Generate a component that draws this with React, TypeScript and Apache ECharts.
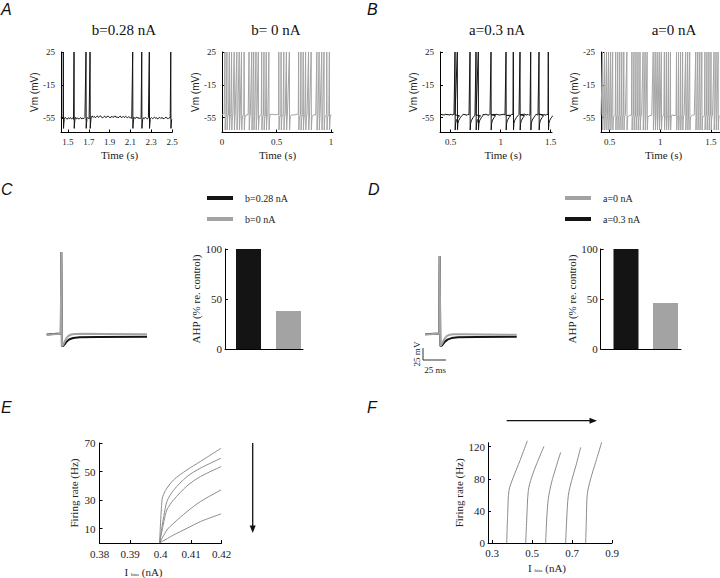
import React, { useEffect, useRef } from 'react';
import * as echarts from 'echarts';

const SERIF = 'Liberation Serif, "Times New Roman", serif';
const SANS = 'Liberation Sans, Arial, sans-serif';

type Pt = [number, number];

// ---------- Panel A / B: voltage traces ----------
const vmTicks = [-55, -15, 25];
const vmTickLabelsA = ['-55', '-15', '25'];
const vmTickLabelsB2 = ['-55', '-15', '-25'];

const a1XTicks = [1.5, 1.7, 1.9, 2.1, 2.3, 2.5];
const a2XTicks = [0, 0.5, 1];
const b1XTicks = [0.5, 1, 1.5];
const b2XTicks = [0.5, 1, 1.5];

const panelTitles = ['b=0.28 nA', 'b= 0 nA', 'a=0.3 nA', 'a=0 nA'];

const a1Spikes = [1.455, 1.558, 1.673, 1.712, 2.122, 2.209, 2.282, 2.488];
const a1Start = 1.433;
const a1Step = 0.01;
const a1Base = [
  -55.0, -56.6, -55.2, -56.3, -54.5, -56.0, -56.8, -55.1, -56.2, -54.8, -56.5, -55.3, -57.0, -55.6, -54.6, -56.4, -55.2, -56.7, -55.8, -54.9,
  -56.5, -55.3, -56.1, -54.7, -56.8, -55.5, -55.0, -56.4, -55.7,
  -54.0, -52.9, -54.6, -53.3, -55.1, -53.8, -52.8, -54.7, -53.6, -52.7, -54.5, -55.2, -53.9, -53.1, -54.9, -54.2, -52.9, -53.8, -55.0, -54.4,
  -53.2, -54.8, -53.6, -52.9, -54.6, -53.9, -55.3, -53.7, -53.0, -54.8, -54.1, -53.5, -54.9, -53.2, -54.3, -55.1, -53.7, -54.6, -55.2, -55.6,
  -55.4, -54.4, -56.1, -55.0, -54.2, -55.9, -54.9, -56.4, -54.5, -55.7, -55.2, -56.2, -54.4, -55.5, -56.6, -55.0, -54.1, -55.8, -54.8, -56.1,
  -55.3, -54.3, -55.9, -55.0, -56.5, -55.4, -54.6, -56.0, -54.8, -55.6, -56.3, -55.0, -54.4, -55.6, -56.2, -54.9, -55.7, -55.2,
];

const a2Spikes = [
  0.027, 0.045, 0.067, 0.088, 0.112, 0.136, 0.158, 0.179, 0.203, 0.248, 0.273, 0.291, 0.312, 0.333, 0.364, 0.385, 0.406, 0.43,
  0.521, 0.542, 0.567, 0.591, 0.618, 0.703, 0.724, 0.745, 0.767, 0.794, 0.818, 0.87, 0.891, 0.915, 0.936, 0.961, 0.985,
];
const a2Start = 0;
const a2Step = 0.02;
const a2Base = [
  -51.0, -50.4, -51.6, -50.8, -51.3, -50.6, -51.8, -51.1, -50.5, -51.4, -50.9, -51.7, -51.2, -50.6, -51.5, -50.8, -51.3, -51.9, -50.7, -51.2,
  -50.5, -51.6, -51.0, -50.8, -51.4, -51.1, -50.6, -51.7, -51.2, -50.9, -51.5, -50.7, -51.3, -51.8, -51.0, -50.6, -51.4, -51.1, -50.8, -51.6,
  -51.2, -50.5, -51.3, -51.7, -50.9, -51.1, -50.6, -51.5, -51.0, -50.8, -51.2,
];

const b1Spikes = [0.543, 0.566, 0.693, 0.753, 0.776, 0.903, 1.053, 1.126, 1.193, 1.3, 1.383, 1.476];
const b1Start = 0.393;
const b1Step = 0.01;
const b1Base = [
  -51.2, -50.4, -51.8, -50.9, -52.1, -51.0, -50.5, -51.7, -50.8, -51.9, -51.3, -50.6, -52.0, -51.1, -50.7, -51.6, -52.2, -51.0, -50.5, -51.8,
  -51.4, -50.9, -52.0, -51.2, -50.6, -51.7, -51.1, -52.3, -50.8, -51.5, -51.9, -50.7, -51.3, -52.0, -51.0, -50.6, -51.8, -51.2, -52.1, -50.9,
  -51.5, -51.0, -52.2, -50.8, -51.6, -51.1, -50.5, -51.9, -51.3, -52.0, -50.8, -51.4, -51.9, -50.7, -51.2, -52.1, -51.0, -50.6, -51.7, -51.3,
  -52.0, -50.9, -51.5, -51.1, -50.7, -51.8, -52.2, -51.0, -50.8, -51.6, -51.2, -52.0, -50.6, -51.4, -51.9, -51.1, -50.7, -51.7, -52.1, -51.0,
  -51.5, -50.8, -51.3, -52.0, -51.2, -50.6, -51.8, -51.4, -50.9, -52.2, -51.1, -50.7, -51.6, -51.9, -51.0, -52.1, -50.8, -51.3, -51.7, -50.6,
  -51.4, -52.0, -51.1, -50.9, -51.6, -51.2, -52.2, -50.7, -51.5, -51.8, -51.0, -51.4, -50.9,
];

const b2Spikes = [
  0.43, 0.45, 0.47, 0.49, 0.51, 0.53, 0.56, 0.58, 0.6, 0.62, 0.64, 0.67, 0.72, 0.74, 0.76, 0.78, 0.8, 0.83, 0.85, 0.87,
  0.93, 0.95, 0.97, 0.99, 1.01, 1.04, 1.06, 1.08, 1.1, 1.16, 1.18, 1.2, 1.22, 1.25, 1.27, 1.29, 1.35, 1.37, 1.39, 1.41,
  1.44, 1.46, 1.48, 1.5, 1.53, 1.55, 1.57, 1.6,
];
const b2Start = 0.415;
const b2Step = 0.02;
const b2Base = [
  -52.1, -51.4, -52.6, -51.8, -52.3, -51.6, -52.8, -52.0, -51.5, -52.4, -51.9, -52.7, -52.2, -51.6, -52.5, -51.8, -52.3, -52.9, -51.7, -52.2,
  -51.5, -52.6, -52.0, -51.8, -52.4, -52.1, -51.6, -52.7, -52.2, -51.9, -52.5, -51.7, -52.3, -52.8, -52.0, -51.6, -52.4, -52.1, -51.8, -52.6,
  -52.2, -51.5, -52.3, -52.7, -51.9, -52.1, -51.6, -52.5, -52.0, -51.8, -52.2, -52.6, -51.7, -52.3, -51.9, -52.4, -52.0, -51.7, -52.3, -51.8,
  -52.2, -52.5, -51.9,
];

// spike waveform templates (time offset in s, mV)
const spikeShapeA1: Pt[] = [[0, 25], [0.002, -68], [0.005, -62], [0.009, -57]];
const spikeShapeGray: Pt[] = [[0, 25], [0.002, -70], [0.005, -60], [0.008, -54]];
const spikeShapeB1: Pt[] = [[0, 25], [0.002, -70], [0.006, -62], [0.015, -58], [0.03, -55], [0.045, -52.5]];

// ---------- Panel C / D ----------
const cLegend = ['b=0.28 nA', 'b=0 nA'];
const dLegend = ['a=0 nA', 'a=0.3 nA'];
// single spike (ms, mV)
const cGray: Pt[] = [[-16, -60], [-10, -59.8], [-4, -59.3], [-0.5, -58.8], [0, 40], [0.7, -74], [2, -72.5], [4, -68], [6, -64], [8, -61.5], [11, -60], [15, -59.4], [25, -59.2], [50, -59.3], [94, -59.6]];
const cBlack: Pt[] = [[-16, -60], [-0.5, -58.8], [0, 40], [0.7, -74], [2, -73.8], [4, -71.5], [6, -68.5], [9, -65.8], [13, -64.2], [20, -63.4], [40, -63], [94, -62.8]];
const dGray: Pt[] = [[-16, -60], [-10, -59.8], [-4, -59.3], [-0.5, -58.8], [0, 40], [0.7, -75], [2, -73], [4, -68.5], [6, -64.5], [8, -62], [11, -60.5], [15, -60], [25, -60], [50, -60.2], [84, -60.5]];
const dBlack: Pt[] = [[-16, -60], [-0.5, -58.8], [0, 40], [0.7, -75], [2, -74.5], [4, -72], [6, -69], [9, -66.5], [13, -64.8], [20, -63.8], [40, -63.3], [84, -63.1]];

const ahpCats = ['control', 'no adaptation'];
const ahpC = [100, 38];
const ahpD = [100, 46];
const ahpTicks = [0, 50, 100];

// ---------- Panel E / F ----------
const eXTicks = [0.38, 0.39, 0.4, 0.41, 0.42];
const eYTicks = [10, 30, 50, 70];
const eCurves: Pt[][] = [
  [[0.3997, 0], [0.4005, 30.2], [0.4012, 35], [0.4021, 38.4], [0.4043, 44.2], [0.4087, 51.2], [0.4131, 57.1], [0.4199, 66.4]],
  [[0.3997, 0], [0.4005, 11.7], [0.4011, 18.7], [0.4021, 29], [0.4043, 37], [0.4087, 46.5], [0.4131, 52.4], [0.4199, 59.4]],
  [[0.3997, 0], [0.4011, 15], [0.4021, 23.2], [0.4043, 30.2], [0.4087, 40], [0.4131, 46.5], [0.4199, 53.5]],
  [[0.3997, 0], [0.4021, 9.1], [0.4043, 13.8], [0.4087, 22], [0.4131, 29], [0.4199, 37.2]],
  [[0.3997, 0], [0.4043, 5.6], [0.4087, 10.3], [0.4131, 15], [0.4199, 20.4]],
];
const fXTicks = [0.3, 0.5, 0.7, 0.9];
const fYTicks = [0, 40, 80, 120];
const fCurves: Pt[][] = [
  [[0.3735, 0], [0.3785, 36.8], [0.385, 65.6], [0.4067, 82], [0.44, 102.8], [0.4767, 127.5]],
  [[0.4685, 0], [0.4735, 28.5], [0.4817, 65.6], [0.4983, 82], [0.5233, 98.7], [0.56, 120.5]],
  [[0.5683, 0], [0.5733, 28.5], [0.5817, 55.3], [0.5983, 75.9], [0.62, 94.5], [0.6433, 113]],
  [[0.6683, 0], [0.6733, 28.5], [0.6817, 59.4], [0.6983, 78], [0.72, 96.6], [0.7433, 119.2]],
  [[0.7683, 0], [0.7717, 28.5], [0.7767, 61.5], [0.7933, 80], [0.8183, 100.7], [0.8483, 125.4]],
];

function buildTrace(t0: number, dt: number, base: number[], spikes: number[], shape: Pt[]): Pt[] {
  const win = shape[shape.length - 1][0];
  const out: Pt[] = [];
  let si = 0;
  for (let i = 0; i < base.length; i++) {
    const t = t0 + i * dt;
    while (si < spikes.length && spikes[si] <= t) {
      const s = spikes[si];
      for (const [dx, v] of shape) out.push([s + dx, v]);
      si++;
    }
    if (!spikes.some((s) => t > s && t <= s + win)) out.push([t, base[i]]);
  }
  while (si < spikes.length) {
    const s = spikes[si];
    for (const [dx, v] of shape) out.push([s + dx, v]);
    si++;
  }
  return out;
}

const BLACK = '#141414';
const GRAY = '#a3a3a3';
const LGRAY = '#8c8c8c';

const axisLine = { show: true, onZero: false, lineStyle: { color: '#000', width: 1 } };

function vAxis(grid: number, min: number, max: number, ticks: number[], extra: any = {}) {
  const { label = {}, ...rest } = extra;
  return {
    type: 'value',
    gridIndex: grid,
    min,
    max,
    splitLine: { show: false },
    axisLine,
    axisTick: { show: true, inside: true, length: 3, customValues: ticks, lineStyle: { color: '#000' } },
    axisLabel: { show: true, customValues: ticks, fontFamily: SERIF, fontSize: 10, color: '#222', margin: 5, ...label },
    ...rest,
  };
}
function hiddenAxis(grid: number, min: number, max: number) {
  return { type: 'value', gridIndex: grid, min, max, show: false };
}

const vmName = (gap: number) => ({
  name: 'Vm (mV)',
  nameLocation: 'middle',
  nameGap: gap,
  nameRotate: 90,
  nameTextStyle: { fontFamily: SANS, fontSize: 10, color: '#222' },
});
const timeName = (pad: number[] = [0, 0, 0, 0]) => ({
  name: 'Time (s)',
  nameLocation: 'middle',
  nameGap: 17,
  nameTextStyle: { fontFamily: SERIF, fontSize: 11, color: '#222', padding: pad },
});

const biasName = (gap: number, pad: number[]) => ({
  name: '{i|I} {s|bias} {n|(nA)}',
  nameLocation: 'middle',
  nameGap: gap,
  nameTextStyle: {
    fontFamily: SERIF,
    fontSize: 11,
    color: '#222',
    padding: pad,
    rich: {
      i: { fontFamily: SERIF, fontSize: 11, color: '#222' },
      s: { fontFamily: SERIF, fontSize: 5, color: '#222', verticalAlign: 'bottom', padding: [4, 0, 0, 0] },
      n: { fontFamily: SERIF, fontSize: 11, color: '#222' },
    },
  },
});
const rateName = (gap: number) => ({
  name: 'Firing rate (Hz)',
  nameLocation: 'middle',
  nameGap: gap,
  nameRotate: 90,
  nameTextStyle: { fontFamily: SERIF, fontSize: 11, color: '#222' },
});
const ahpName = (gap: number) => ({
  name: 'AHP (% re. control)',
  nameLocation: 'middle',
  nameGap: gap,
  nameRotate: 90,
  nameTextStyle: { fontFamily: SERIF, fontSize: 11, color: '#222' },
});

function lineSeries(name: string, x: number, data: Pt[], color: string, width: number, extra: any = {}) {
  return {
    type: 'line',
    name,
    xAxisIndex: x,
    yAxisIndex: x,
    data,
    color,
    showSymbol: false,
    symbol: 'none',
    silent: true,
    lineStyle: { color, width },
    ...extra,
  };
}

function barSeries(name: string, x: number, values: number[], colors: string[]) {
  return {
    type: 'bar',
    name,
    xAxisIndex: x,
    yAxisIndex: x,
    barWidth: 25,
    silent: true,
    data: values.map((v, i) => ({ value: [i, v], name: ahpCats[i], itemStyle: { color: colors[i] } })),
  };
}

const grids = [
  { left: 61, top: 52, width: 111, height: 80.5 },
  { left: 222, top: 52, width: 111, height: 80.5 },
  { left: 440, top: 52, width: 112, height: 80.5 },
  { left: 601, top: 52, width: 125, height: 80.5 },
  { left: 46.7, top: 252, width: 100.3, height: 99 },
  { left: 225, top: 249, width: 78, height: 100 },
  { left: 425, top: 256, width: 91.7, height: 94 },
  { left: 600.7, top: 249, width: 80.3, height: 100 },
  { left: 99.5, top: 443, width: 122, height: 100 },
  { left: 488, top: 442.7, width: 124, height: 100.3 },
].map((g) => ({ ...g, containLabel: false, outerBoundsMode: 'none' }));

function letter(t: string, x: number, y: number) {
  return {
    type: 'text',
    x,
    y,
    silent: true,
    style: { text: t, font: `italic 16px ${SANS}`, fill: '#111', align: 'left', verticalAlign: 'middle' },
  };
}
function title(t: string, x: number, y: number) {
  return {
    type: 'text',
    x,
    y,
    silent: true,
    style: { text: t, font: `15px ${SERIF}`, fill: '#111', align: 'center', verticalAlign: 'middle' },
  };
}

export default function App() {
  const ref = useRef<HTMLDivElement>(null);
  useEffect(() => {
    if (!ref.current) return;
    const chart = echarts.init(ref.current, undefined, { renderer: 'svg' });

    const legendBase = {
      orient: 'vertical',
      icon: 'rect',
      itemWidth: 26,
      itemHeight: 4,
      itemGap: 11,
      selectedMode: false,
      itemStyle: { borderWidth: 0 },
      textStyle: { fontFamily: SERIF, fontSize: 10, color: '#222', padding: [0, 0, 0, 7] },
    };

    const option: any = {
      animation: false,
      backgroundColor: '#fff',
      textStyle: { fontFamily: SERIF },
      grid: grids,
      legend: [
        { ...legendBase, data: cLegend, left: 202, top: 188 },
        { ...legendBase, data: dLegend, left: 560, top: 188 },
      ],
      xAxis: [
        vAxis(0, 1.4327, 2.5, a1XTicks, { label: { fontSize: 9 }, ...timeName([0, 0, 0, 6]) }),
        vAxis(1, 0, 1.0183, a2XTicks, { label: { fontSize: 9 }, ...timeName() }),
        vAxis(2, 0.393, 1.513, b1XTicks, { label: { fontSize: 9 }, ...timeName([0, 0, 0, 14]) }),
        vAxis(3, 0.415, 1.648, b2XTicks, { label: { fontSize: 9 }, ...timeName() }),
        hiddenAxis(4, -16, 94),
        vAxis(5, -0.5875, 1.3625, [], { axisTick: { show: false }, axisLabel: { show: false } }),
        hiddenAxis(6, -16, 84),
        vAxis(7, -0.64, 1.392, [], { axisTick: { show: false }, axisLabel: { show: false } }),
        vAxis(8, 0.38, 0.42, eXTicks, { label: { fontSize: 11, margin: 5 }, ...biasName(23, [0, 34, 0, 0]) }),
        vAxis(9, 0.28, 0.9, fXTicks, { label: { fontSize: 11, margin: 4 }, ...biasName(19, [0, 6, 0, 0]) }),
      ],
      yAxis: [
        vAxis(0, -73, 25, vmTicks, { label: { fontSize: 9, margin: 6, formatter: (v: number) => vmTickLabelsA[vmTicks.indexOf(v)] ?? '' }, ...vmName(19) }),
        vAxis(1, -73, 25, vmTicks, { label: { fontSize: 9, margin: 6, formatter: (v: number) => vmTickLabelsA[vmTicks.indexOf(v)] ?? '' }, ...vmName(19) }),
        vAxis(2, -73, 25, vmTicks, { label: { fontSize: 9, margin: 6, formatter: (v: number) => vmTickLabelsA[vmTicks.indexOf(v)] ?? '' }, ...vmName(19) }),
        vAxis(3, -73, 25, vmTicks, { label: { fontSize: 9, margin: 6, formatter: (v: number) => vmTickLabelsB2[vmTicks.indexOf(v)] ?? '' }, ...vmName(19) }),
        hiddenAxis(4, -80, 40),
        vAxis(5, 0, 100, ahpTicks, { label: { fontSize: 11, margin: 3 }, ...ahpName(16) }),
        hiddenAxis(6, -80, 40),
        vAxis(7, 0, 100, ahpTicks, { label: { fontSize: 11, margin: 3 }, ...ahpName(14) }),
        vAxis(8, 0, 70, eYTicks, { label: { fontSize: 11, margin: 4 }, ...rateName(20) }),
        vAxis(9, 0, 125, fYTicks, { label: { fontSize: 11, margin: 3 }, ...rateName(21) }),
      ],
      series: [
        lineSeries('A b=0.28', 0, buildTrace(a1Start, a1Step, a1Base, a1Spikes, spikeShapeA1), BLACK, 1),
        lineSeries('A b=0', 1, buildTrace(a2Start, a2Step, a2Base, a2Spikes, spikeShapeGray), GRAY, 1),
        lineSeries('B a=0.3', 2, buildTrace(b1Start, b1Step, b1Base, b1Spikes, spikeShapeB1), BLACK, 1),
        lineSeries('B a=0', 3, buildTrace(b2Start, b2Step, b2Base, b2Spikes, spikeShapeGray), GRAY, 1),
        lineSeries(cLegend[0], 4, cBlack, BLACK, 2),
        lineSeries(cLegend[1], 4, cGray, GRAY, 2),
        barSeries('C AHP', 5, ahpC, [BLACK, GRAY]),
        lineSeries(dLegend[1], 6, dBlack, BLACK, 2),
        lineSeries(dLegend[0], 6, dGray, GRAY, 2),
        barSeries('D AHP', 7, ahpD, [BLACK, GRAY]),
        ...eCurves.map((c, i) => lineSeries(`E${i + 1}`, 8, c, LGRAY, 1, { smooth: 0.3 })),
        ...fCurves.map((c, i) => lineSeries(`F${i + 1}`, 9, c, LGRAY, 1, { smooth: 0.3, clip: false })),
      ],
      graphic: [
        letter('A', 1, 9),
        letter('B', 367, 9),
        letter('C', 1, 189),
        letter('D', 368, 189),
        letter('E', 1, 407.5),
        letter('F', 367, 407.5),
        title(panelTitles[0], 124, 30),
        title(panelTitles[1], 276, 30),
        title(panelTitles[2], 497, 30),
        title(panelTitles[3], 674, 30),
        // scale bar (panel D)
        { type: 'polyline', silent: true, shape: { points: [[423, 348], [423, 360], [446, 360]] }, style: { stroke: '#333', lineWidth: 1, fill: 'none' } },
        { type: 'text', x: 417, y: 354, rotation: Math.PI / 2, silent: true, style: { text: '25 mV', font: `9px ${SERIF}`, fill: '#222', align: 'center', verticalAlign: 'middle' } },
        { type: 'text', x: 435, y: 370, silent: true, style: { text: '25 ms', font: `9px ${SERIF}`, fill: '#222', align: 'center', verticalAlign: 'middle' } },
        // arrows
        { type: 'line', silent: true, shape: { x1: 252.7, y1: 443, x2: 252.7, y2: 527 }, style: { stroke: '#111', lineWidth: 1.3 } },
        { type: 'polygon', silent: true, shape: { points: [[249.7, 525.5], [255.7, 525.5], [252.7, 533]] }, style: { fill: '#111' } },
        { type: 'line', silent: true, shape: { x1: 506.7, y1: 420.7, x2: 591, y2: 420.7 }, style: { stroke: '#111', lineWidth: 1.3 } },
        { type: 'polygon', silent: true, shape: { points: [[589.5, 417.7], [589.5, 423.7], [597, 420.7]] }, style: { fill: '#111' } },
      ],
    };
    chart.setOption(option);
    return () => chart.dispose();
  }, []);

  return (
    <div
      ref={ref}
      style={{ position: 'absolute', left: 0, top: 0, width: 720, height: 578, background: '#fff' }}
    />
  );
}
